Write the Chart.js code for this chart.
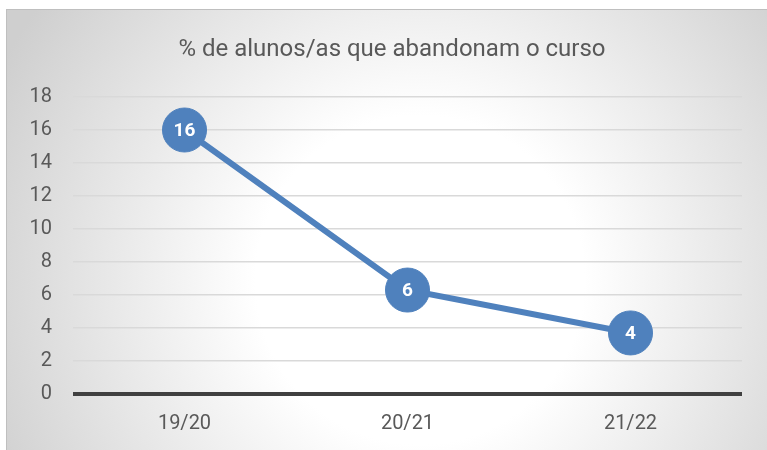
<!DOCTYPE html>
<html>
<head>
<meta charset="utf-8">
<script src="https://cdn.jsdelivr.net/npm/chart.js"></script>
<style>
    html, body { margin: 0; padding: 0; background: #ffffff; }
    #wrap { width: 767px; height: 450px; }
</style>
</head>
<body>
<div id="wrap"><canvas id="chart"></canvas></div>
<script>
// Chart data
const years = ['19/20', '20/21', '21/22'];
const dropoutPct = [16, 6.3, 3.7];
const yTicks = [0, 2, 4, 6, 8, 10, 12, 14, 16, 18];

const chartTitle = '% de alunos/as que abandonam o curso';
const fontFamily = "'Roboto', sans-serif";
const blue = '#4f81bd';
const textGray = '#595959';

// Gradient background with frame, like the spreadsheet chart area
const backgroundPlugin = {
    id: 'frameBackground',
    beforeDraw(chart) {
        const ctx = chart.ctx;
        const x0 = 6, y0 = 9, w = chart.width - x0, h = chart.height - y0;
        const g = ctx.createRadialGradient(420, 280, 0, 420, 280, 470);
        g.addColorStop(0, '#ffffff');
        g.addColorStop(0.35, '#ffffff');
        g.addColorStop(1, '#cfcfcf');
        ctx.save();
        ctx.fillStyle = g;
        ctx.fillRect(x0, y0, w, h);
        ctx.strokeStyle = '#bfbfbf';
        ctx.lineWidth = 1;
        ctx.strokeRect(x0 + 0.5, y0 + 0.5, w, h);

        // title, centred on the whole frame
        ctx.fillStyle = textGray;
        ctx.font = '24px ' + fontFamily;
        ctx.textAlign = 'center';
        ctx.textBaseline = 'alphabetic';
        ctx.fillText(chartTitle, 392, 56);
        ctx.restore();
    }
};

// White value labels inside the markers
const valueLabels = {
    id: 'valueLabels',
    afterDatasetsDraw(chart) {
        const ctx = chart.ctx;
        const meta = chart.getDatasetMeta(0);
        ctx.save();
        ctx.fillStyle = '#ffffff';
        ctx.font = 'bold 19px ' + fontFamily;
        ctx.textAlign = 'center';
        ctx.textBaseline = 'middle';
        meta.data.forEach((pt, i) => {
            ctx.fillText(Math.round(dropoutPct[i]).toString(), pt.x, pt.y + 1);
        });
        ctx.restore();
    }
};

new Chart(document.getElementById('chart'), {
    type: 'line',
    data: {
        labels: years,
        datasets: [{
            data: dropoutPct,
            borderColor: blue,
            borderWidth: 6,
            pointRadius: 22,
            pointHoverRadius: 22,
            pointBackgroundColor: blue,
            pointBorderColor: blue,
            pointBorderWidth: 1,
            tension: 0,
            clip: false
        }]
    },
    options: {
        responsive: true,
        maintainAspectRatio: false,
        animation: false,
        events: [],
        layout: { padding: { left: 0, right: 25, top: 97, bottom: 0 } },
        plugins: {
            legend: { display: false },
            tooltip: { enabled: false },
            title: { display: false }
        },
        scales: {
            x: {
                offset: true,
                grid: { display: false, drawTicks: false },
                border: { display: false },
                ticks: {
                    color: textGray,
                    font: { family: fontFamily, size: 20 },
                    padding: 18
                },
                afterFit: s => { s.height = 56; }
            },
            y: {
                min: 0,
                max: 18,
                afterBuildTicks: s => { s.ticks = yTicks.map(v => ({ value: v })); },
                border: { display: false },
                grid: {
                    drawTicks: false,
                    color: c => c.tick.value === 0 ? '#404040' : '#d9d9d9',
                    lineWidth: c => c.tick.value === 0 ? 4 : 1.5
                },
                ticks: {
                    color: textGray,
                    font: { family: fontFamily, size: 20 },
                    padding: 21
                },
                afterFit: s => { s.width = 73; }
            }
        }
    },
    plugins: [backgroundPlugin, valueLabels]
});
</script>
</body>
</html>
